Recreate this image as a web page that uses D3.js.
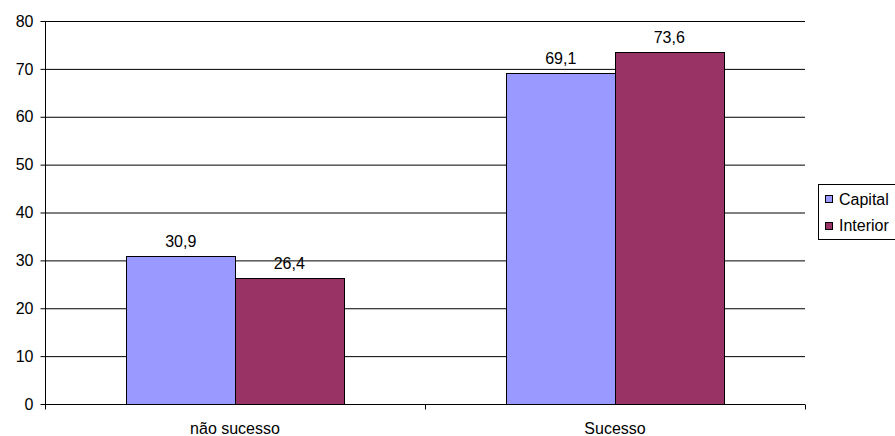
<!DOCTYPE html>
<html><head><meta charset="utf-8">
<script src="https://cdn.jsdelivr.net/npm/d3@7"></script>
<style>body{margin:0;background:#fff}svg{display:block}text{font-family:"Liberation Sans",Arial,sans-serif;font-size:16px;fill:#000}</style>
</head><body><svg id="c" width="895" height="436"></svg>
<script>
const categories = ["não sucesso", "Sucesso"];
const seriesNames = ["Capital", "Interior"];
const capital = [30.9, 69.1];
const interior = [26.4, 73.6];
const yTicks = [0, 10, 20, 30, 40, 50, 60, 70, 80];
const colors = ["#9999FF", "#993366"];
const fmt = v => String(v).replace(".", ",");

const svg = d3.select("#c");
const L = 45, R = 805, T = 21, B = 404;
const x = d3.scaleBand().domain(categories).range([L, R]);
const y = d3.scaleLinear().domain([0, 80]).range([B, T]);
const barW = x.bandwidth() / 3.5;
const xs = d3.scaleBand().domain(seriesNames).range([0, barW * 2]);
const series = [capital, interior];

// gridlines
svg.append("g").selectAll("line").data(yTicks.filter(d => d > 0)).join("line")
  .attr("x1", L).attr("x2", R).attr("y1", d => y(d) + 0.5).attr("y2", d => y(d) + 0.5)
  .attr("stroke", "#000").attr("stroke-width", 1);

// bars
const g = svg.append("g");
categories.forEach((c, ci) => {
  series.forEach((s, si) => {
    const x0 = x(c) + (x.bandwidth() - barW * 2) / 2 + xs(seriesNames[si]);
    g.append("rect").attr("x", Math.round(x0) + 0.5).attr("y", Math.round(y(s[ci])) + 0.5)
      .attr("width", Math.round(barW)).attr("height", Math.round(B - y(s[ci])))
      .attr("fill", colors[si]).attr("stroke", "#000").attr("stroke-width", 1);
    g.append("text").attr("x", x0 + barW / 2).attr("y", y(s[ci]) - 9)
      .attr("text-anchor", "middle").text(fmt(s[ci]));
  });
});

// y axis
const ya = svg.append("g").attr("transform", `translate(${L + 0.5},0)`)
  .call(d3.axisLeft(y).tickValues(yTicks).tickSize(5).tickPadding(7).tickFormat(d => d));
ya.select(".domain").attr("d", `M0,${T}V${B}`).attr("stroke", "#000");
ya.selectAll(".tick line").attr("stroke", "#000");
ya.selectAll("text").style("font-size", "16px").style("font-family", "Liberation Sans, Arial, sans-serif");

// x axis
const xa = svg.append("g").attr("transform", `translate(0,${B + 0.5})`);
xa.append("line").attr("x1", L).attr("x2", R).attr("stroke", "#000");
[L, x("Sucesso"), R].forEach(v => xa.append("line").attr("x1", Math.round(v) + 0.5).attr("x2", Math.round(v) + 0.5)
  .attr("y1", 0).attr("y2", 5).attr("stroke", "#000"));
categories.forEach(c => xa.append("text").attr("x", x(c) + x.bandwidth() / 2).attr("y", 29.5)
  .attr("text-anchor", "middle").text(c));

// legend
const lg = svg.append("g");
lg.append("rect").attr("x", 818.5).attr("y", 184.5).attr("width", 80).attr("height", 55)
  .attr("fill", "#fff").attr("stroke", "#000");
seriesNames.forEach((n, i) => {
  lg.append("rect").attr("x", 825.5).attr("y", 195.5 + i * 27).attr("width", 7).attr("height", 7)
    .attr("fill", colors[i]).attr("stroke", "#000");
  lg.append("text").attr("x", 839).attr("y", 205 + i * 26).text(n);
});
</script></body></html>
